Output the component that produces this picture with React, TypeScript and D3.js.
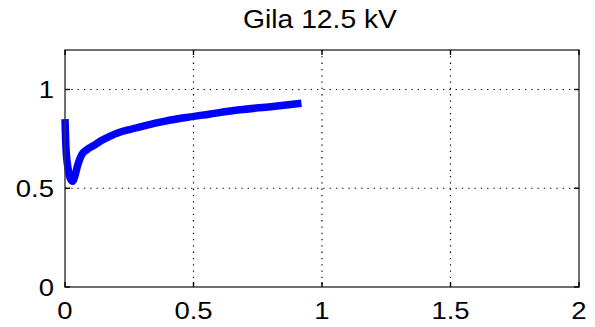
import React from "react";
import * as d3 from "d3";

// Voltage profile series
const xValues = [0, 0.004, 0.012, 0.022, 0.03, 0.038, 0.05, 0.065, 0.085, 0.11, 0.14, 0.17, 0.21, 0.26, 0.32, 0.39, 0.47, 0.56, 0.68, 0.8, 0.92];
const yValues = [0.85, 0.7, 0.6, 0.545, 0.535, 0.56, 0.62, 0.67, 0.695, 0.715, 0.74, 0.76, 0.782, 0.8, 0.82, 0.84, 0.858, 0.875, 0.897, 0.913, 0.93];

const xTicks = [0, 0.5, 1, 1.5, 2];
const yTicks = [0, 0.5, 1];
const xTickLabels = ["0", "0.5", "1", "1.5", "2"];
const yTickLabels = ["0", "0.5", "1"];
const title = "Gila 12.5 kV";

const W = 595;
const H = 327;
const left = 65;
const right = 579;
const top = 50;
const bottom = 287;

export default function App() {
  const x = d3.scaleLinear().domain([0, 2]).range([left, right]);
  const y = d3.scaleLinear().domain([0, 1.2]).range([bottom, top]);
  const pts: [number, number][] = xValues.map((v, i) => [v, yValues[i]]);
  const line = d3
    .line<[number, number]>()
    .x((d) => x(d[0]))
    .y((d) => y(d[1]))
    .curve(d3.curveMonotoneX);
  const font = "'Liberation Sans', Arial, Helvetica, sans-serif";
  const tickLen = 5;

  return (
    <svg
      width={W}
      height={H}
      style={{ position: "absolute", left: 0, top: 0, background: "#fff" }}
    >
      <rect x={0} y={0} width={W} height={H} fill="#fff" />
      {/* grid */}
      {xTicks.slice(1, -1).map((t) => (
        <line
          key={"gx" + t}
          x1={x(t)}
          x2={x(t)}
          y1={top}
          y2={bottom}
          stroke="#000"
          strokeWidth={1.2}
          strokeDasharray="1.3,5"
        />
      ))}
      {yTicks.slice(1).map((t) => (
        <line
          key={"gy" + t}
          x1={left}
          x2={right}
          y1={y(t)}
          y2={y(t)}
          stroke="#000"
          strokeWidth={1.2}
          strokeDasharray="1.3,5"
        />
      ))}
      {/* data line */}
      <path
        d={line(pts) || ""}
        fill="none"
        stroke="#0000ff"
        strokeWidth={7.5}
        strokeLinejoin="round"
        strokeLinecap="butt"
      />
      {/* axes box */}
      <rect
        x={left}
        y={top}
        width={right - left}
        height={bottom - top}
        fill="none"
        stroke="#333"
        strokeWidth={1.4}
      />
      {/* ticks */}
      {xTicks.map((t) => (
        <g key={"tx" + t}>
          <line x1={x(t)} x2={x(t)} y1={bottom} y2={bottom - tickLen} stroke="#000" strokeWidth={1.4} />
          <line x1={x(t)} x2={x(t)} y1={top} y2={top + tickLen} stroke="#000" strokeWidth={1.4} />
        </g>
      ))}
      {yTicks.map((t) => (
        <g key={"ty" + t}>
          <line x1={left} x2={left + tickLen} y1={y(t)} y2={y(t)} stroke="#000" strokeWidth={1.4} />
          <line x1={right} x2={right - tickLen} y1={y(t)} y2={y(t)} stroke="#000" strokeWidth={1.4} />
        </g>
      ))}
      {/* tick labels */}
      {xTicks.map((t, i) => (
        <text
          key={"lx" + t}
          transform={`translate(${x(t)},319) scale(1.17,1)`}
          textAnchor="middle"
          fontFamily={font}
          fontSize={23.5}
          fill="#000"
        >
          {xTickLabels[i]}
        </text>
      ))}
      {yTicks.map((t, i) => (
        <text
          key={"ly" + t}
          transform={`translate(54,${y(t) + 8.5}) scale(1.17,1)`}
          textAnchor="end"
          fontFamily={font}
          fontSize={23.5}
          fill="#000"
        >
          {yTickLabels[i]}
        </text>
      ))}
      {/* title */}
      <text
        transform={`translate(${(left + right) / 2 - 2},28) scale(1.13,1)`}
        textAnchor="middle"
        fontFamily={font}
        fontSize={25}
        fill="#000"
      >
        {title}
      </text>
    </svg>
  );
}
